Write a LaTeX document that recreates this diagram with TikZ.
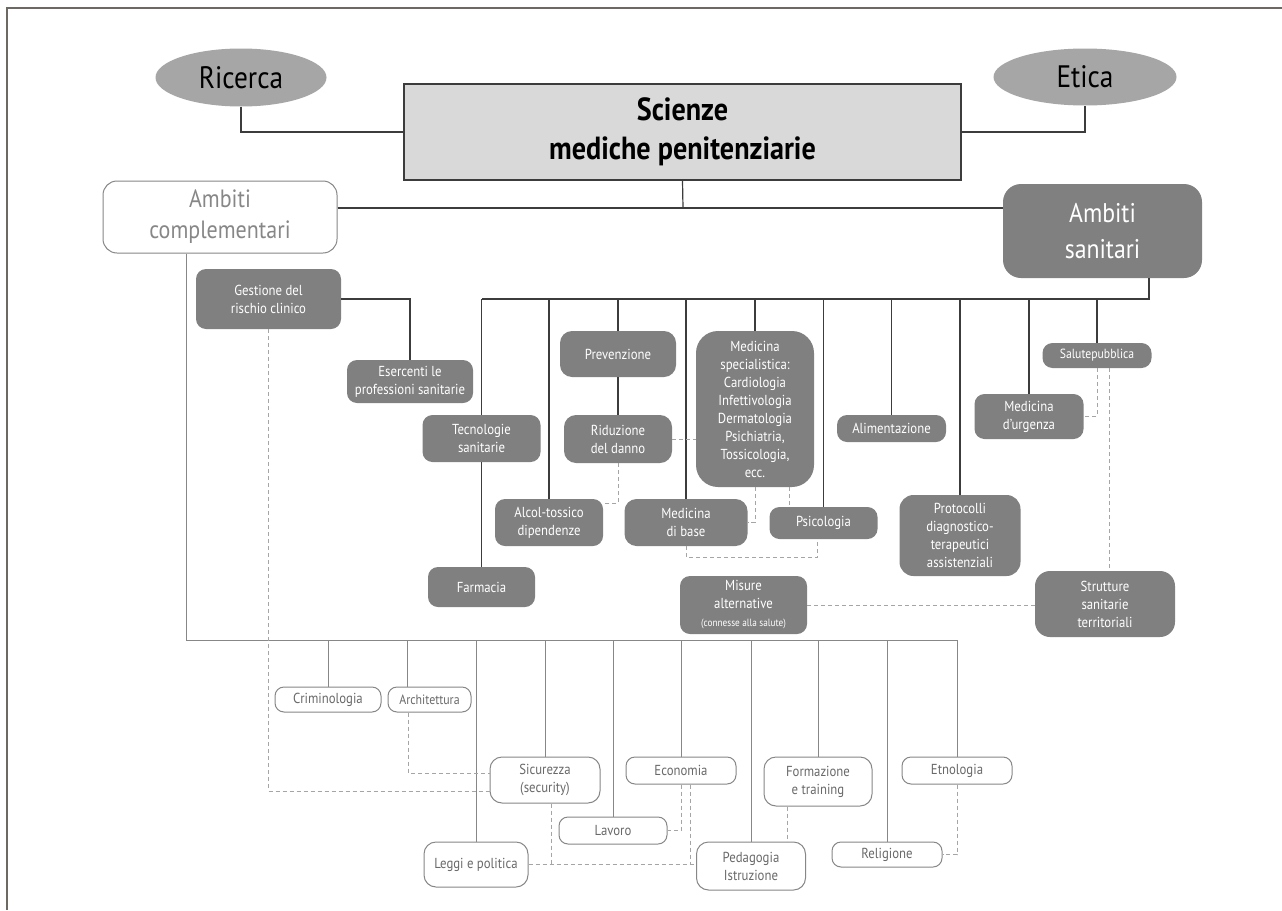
\documentclass[tikz,border=0pt]{standalone}
\usepackage{fontspec}
\setmainfont{PT Sans}[FakeStretch=0.88]
\usetikzlibrary{shapes.geometric}

\definecolor{framecol}{RGB}{110,104,98}
\definecolor{linkgray}{RGB}{60,60,60}
\definecolor{softgray}{RGB}{135,135,135}
\definecolor{dashgray}{RGB}{165,165,165}
\definecolor{ovalgray}{RGB}{166,166,166}
\definecolor{titlegray}{RGB}{217,217,217}
\definecolor{boxgray}{RGB}{128,128,128}
\definecolor{textgray}{RGB}{105,105,105}

\begin{document}
\begin{tikzpicture}[x=1pt, y=-1pt,
    link/.style={draw=linkgray, line width=1.2pt},
    sublink/.style={draw=softgray, line width=1pt},
    dashlink/.style={draw=dashgray, line width=1pt, dash pattern=on 4pt off 3pt},
    boxsize/.style 2 args={minimum width=#1pt, minimum height=#2pt},
    oval/.style={ellipse, fill=ovalgray, inner sep=0pt, font=\fontsize{31}{36}\selectfont},
    darkbox/.style={rectangle, rounded corners=10pt, fill=boxgray, text=white, align=center,
        inner sep=0pt, font=\fontsize{14.5}{18}\selectfont},
    lightbox/.style={rectangle, rounded corners=9pt, draw=softgray, line width=1pt, fill=white,
        text=textgray, align=center, inner sep=0pt, font=\fontsize{14.5}{18}\selectfont}]

\useasboundingbox (0,0) rectangle (1282,910);
\fill[white] (0,0) rectangle (1282,910);

% Frame
\draw[framecol, line width=1.5pt] (7,910) -- (7,8) -- (1282,8);

% Top level
\node[oval, boxsize={171}{58}] (ricerca) at (241,77.5) {Ricerca};
\node[oval, boxsize={183}{57}] (etica) at (1085,77) {Etica};
\node[rectangle, draw=linkgray, line width=1.2pt, fill=titlegray, align=center, boxsize={557}{96},
    font=\fontsize{32}{39}\bfseries\selectfont] (main) at (682.5,132) {Scienze\\mediche penitenziarie};

\node[rectangle, rounded corners=14pt, draw=softgray, line width=1pt, text=softgray, align=center,
    boxsize={234}{72}, font=\fontsize{25}{31}\selectfont] (compl) at (220,217) {Ambiti\\complementari};
\node[rectangle, rounded corners=18pt, fill=boxgray, text=white, align=center,
    boxsize={199}{94}, font=\fontsize{27}{36}\selectfont] (sanit) at (1102.5,231) {Ambiti\\sanitari};

% Ambiti sanitari
\node[darkbox, boxsize={145}{60}] (gest) at (268.5,299) {Gestione del\\rischio clinico};
\node[darkbox, boxsize={126}{43}] (eser) at (410,381.5) {Esercenti le\\professioni sanitarie};
\node[darkbox, boxsize={118}{47}] (tecn) at (481.5,438.5) {Tecnologie\\sanitarie};
\node[darkbox, boxsize={107}{40}] (farm) at (481.5,587) {Farmacia};
\node[darkbox, boxsize={108}{47}] (alcol) at (549,522.5) {Alcol-tossico\\dipendenze};
\node[darkbox, rounded corners=12pt, boxsize={116}{46}] (prev) at (618,354) {Prevenzione};
\node[darkbox, rounded corners=12pt, boxsize={108}{48}] (ridu) at (618,439) {Riduzione\\del danno};
\node[darkbox, rounded corners=12pt, boxsize={123}{47}] (medbase) at (686,522.5) {Medicina\\di base};
\node[darkbox, rounded corners=22pt, boxsize={118}{156}] (medspec) at (755,409)
    {Medicina\\specialistica:\\Cardiologia\\Infettivologia\\Dermatologia\\Psichiatria,\\Tossicologia,\\ecc.};
\node[darkbox, boxsize={108}{32}] (psico) at (823.5,523) {Psicologia};
\node[darkbox, boxsize={109}{27}] (alim) at (891.5,428.5) {Alimentazione};
\node[darkbox, rounded corners=14pt, boxsize={121}{81}] (proto) at (960,535.5)
    {Protocolli\\diagnostico-\\terapeutici\\assistenziali};
\node[darkbox, boxsize={109}{45}] (medurg) at (1029,416.5) {Medicina\\d’urgenza};
\node[darkbox, font=\fontsize{13.3}{16}\selectfont, boxsize={109}{25}] (salute) at (1097,355.5) {Salutepubblica};
\node[darkbox, rounded corners=15pt, boxsize={140}{66}] (strutt) at (1105,604) {Strutture\\sanitarie\\territoriali};
\node[darkbox, boxsize={127}{58}] (misure) at (743.5,605)
    {Misure\\alternative\\{\fontsize{10.5}{12}\selectfont(connesse alla salute)}};

% Ambiti complementari
\node[lightbox, boxsize={106}{25}] (crim) at (328,699.5) {Criminologia};
\node[lightbox, font=\fontsize{13.5}{16}\selectfont, boxsize={83}{25}] (arch) at (429.5,699.5) {Architettura};
\node[lightbox, rounded corners=12pt, boxsize={110}{46}] (sicur) at (545,780) {Sicurezza\\(security)};
\node[lightbox, rounded corners=12pt, boxsize={104}{45}] (leggi) at (476,864.5) {Leggi e politica};
\node[lightbox, boxsize={108}{27}] (lavoro) at (613,830.5) {Lavoro};
\node[lightbox, boxsize={110}{27}] (econ) at (681,770.5) {Economia};
\node[lightbox, rounded corners=12pt, boxsize={109}{48}] (pedag) at (751,866) {Pedagogia\\Istruzione};
\node[lightbox, rounded corners=12pt, boxsize={108}{49}] (form) at (818,781.5) {Formazione\\e training};
\node[lightbox, boxsize={110}{25}] (relig) at (887,854.5) {Religione};
\node[lightbox, boxsize={110}{27}] (etno) at (957,770.5) {Etnologia};

% Top connectors
\draw[link] (ricerca.south) |- (main.west);
\draw[link] (main.east) -| (etica.south);
\coordinate (hub) at (683,208);
\draw[link] (main.south) -- (hub);
\draw[link] (compl.east |- hub) -- (sanit.west |- hub);

% Bus of ambiti sanitari
\coordinate (sbus) at (1149,299);
\draw[link] (sanit.south -| sbus) -- (sbus) -- (sbus -| tecn.north);
\foreach \n in {tecn,alcol,prev,medbase,medspec,psico,alim,proto,medurg,salute}
    \draw[link] (\n.north) -- (\n.north |- sbus);
\draw[link] (gest.east) -| (eser.north);
\draw[link] (tecn.south) -- (farm.north);
\draw[link] (prev.south) -- (ridu.north);

% Dashed links, ambiti sanitari
\draw[dashlink] (ridu.south) |- ([yshift=19pt]alcol.east);
\draw[dashlink] (ridu.east) -- (ridu.east -| medspec.west);
\draw[dashlink] (medspec.south) |- (medbase.east);
\draw[dashlink] ([xshift=34pt]medspec.south) -- ([xshift=34pt]medspec.south |- psico.north);
\draw[dashlink] (medbase.south) -- ++(0,11) -| ([xshift=-6pt]psico.south);
\draw[dashlink] (salute.south) |- (medurg.east);
\draw[dashlink] ([xshift=12pt]salute.south) -- ([xshift=12pt]salute.south |- strutt.north);
\draw[dashlink] (misure.east) -- (misure.east -| strutt.west);

% Bus of ambiti complementari
\coordinate (cbus) at (186,640);
\draw[sublink] (compl.south -| cbus) -- (cbus) -- (cbus -| etno.north);
\foreach \n in {crim,leggi,sicur,lavoro,econ,pedag,form,relig,etno}
    \draw[sublink] (\n.north) -- (\n.north |- cbus);
\draw[sublink] ([xshift=-22pt]arch.north) -- ([xshift=-22pt]arch.north |- cbus);

% Dashed links, ambiti complementari
\draw[dashlink] (gest.south) |- ([yshift=-11pt]sicur.west);
\draw[dashlink] ([xshift=-21pt]arch.south) |- ([yshift=7pt]sicur.west);
\draw[dashlink] (leggi.east) -- (leggi.east -| pedag.west);
\draw[dashlink] ([xshift=6pt]sicur.south) -- ([xshift=6pt]sicur.south |- leggi.east);
\draw[dashlink] ([xshift=9pt]econ.south) -- ([xshift=9pt]econ.south |- leggi.east);
\draw[dashlink] (econ.south) |- (lavoro.east);
\draw[dashlink] ([xshift=-31pt]form.south) -- ([xshift=-31pt]form.south |- pedag.north);
\draw[dashlink] (etno.south) |- (relig.east);

\end{tikzpicture}
\end{document}
